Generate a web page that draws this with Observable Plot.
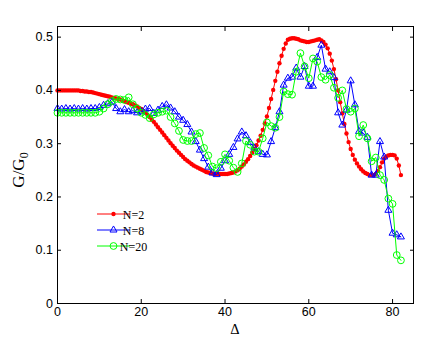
<!DOCTYPE html>
<html><head><meta charset="utf-8">
<script src="https://cdn.jsdelivr.net/npm/d3@7"></script>
<script src="https://cdn.jsdelivr.net/npm/@observablehq/plot@0.6"></script>
<style>
body{margin:0;background:#fff;}
#wrap{position:relative;width:436px;height:350px;}
</style></head><body><div id="wrap"></div>
<script>
// Tick values
const xTicks = [0, 20, 40, 60, 80];
const yTicks = [0, 0.1, 0.2, 0.3, 0.4, 0.5];
const seriesNames = ["N=2", "N=8", "N=20"];
const seriesColors = ["#ff0000", "#0000ff", "#00ff00"];

// N=2 : G/G0 at Delta = 0, 0.5, 1, ... 82
const gN2 = [
 .400,.400,.400,.400,.400,.400,.400,.400,.400,.400,
 .400,.399,.399,.398,.398,.397,.397,.396,.395,.394,
 .393,.392,.391,.390,.389,.388,.387,.386,.385,.384,
 .383,.381,.380,.378,.377,.375,.374,.372,.370,.367,
 .365,.361,.358,.354,.350,.345,.341,.336,.331,.326,
 .321,.316,.311,.306,.301,.296,.292,.287,.283,.279,
 .275,.271,.268,.265,.262,.259,.257,.255,.253,.251,
 .249,.247,.246,.245,.244,.243,.243,.243,.243,.243,
 .243,.243,.244,.245,.246,.248,.250,.253,.257,.261,
 .266,.271,.277,.283,.290,.297,.306,.315,.326,.338,
 .351,.367,.384,.401,.418,.435,.451,.465,.478,.488,
 .495,.497,.498,.498,.497,.496,.494,.493,.492,.491,
 .491,.492,.493,.494,.495,.496,.494,.491,.486,.479,
 .469,.456,.440,.421,.400,.378,.357,.337,.319,.303,
 .290,.279,.270,.263,.257,.252,.248,.245,.243,.241,
 .241,.241,.243,.249,.256,.265,.272,.276,.278,.279,
 .279,.278,.272,.259,.241
];
// N=8 : Delta = 0, 1, ... 82
const gN8 = [
 .366,.365,.366,.365,.366,.365,.366,.365,.366,.366,
 .368,.372,.375,.378,.366,.360,.364,.360,.362,.358,
 .360,.365,.366,.357,.363,.370,.373,.367,.360,.350,
 .344,.336,.322,.304,.288,.272,.256,.245,.242,.254,
 .268,.280,.293,.309,.322,.315,.302,.292,.285,.280,
 .279,.304,.330,.360,.410,.423,.425,.442,.425,.445,
 .408,.408,.462,.485,.440,.435,.424,.358,.335,.363,
 .418,.373,.323,.320,.312,.241,.241,.304,.275,.175,
 .132,.129,.125
];
// N=20 : Delta = 0, 1, ... 82
const gN20 = [
 .358,.358,.358,.358,.358,.358,.358,.358,.358,.358,
 .360,.366,.374,.380,.384,.383,.382,.387,.374,.366,
 .358,.354,.348,.355,.358,.360,.362,.350,.338,.324,
 .307,.305,.305,.318,.320,.292,.278,.257,.254,.266,
 .280,.268,.255,.247,.263,.305,.298,.285,.285,.310,
 .340,.333,.330,.350,.398,.393,.392,.435,.470,.445,
 .423,.460,.454,.425,.420,.429,.405,.386,.400,.365,
 .360,.366,.314,.335,.310,.267,.274,.241,.232,.197,
 .187,.091,.081
];

const red = gN2.map((g, i) => ({delta: i / 2, g}));
const blue = gN8.map((g, i) => ({delta: i, g}));
const green = gN20.map((g, i) => ({delta: i, g}));

const chart = Plot.plot({
  width: 436, height: 350,
  marginLeft: 57, marginRight: 23, marginTop: 26, marginBottom: 47,
  x: {domain: [0, 85], label: null},
  y: {domain: [0, 0.52], label: null},
  style: {fontFamily: "'Liberation Sans', Arial, sans-serif", fontSize: "12.5px", background: "white", color: "black", overflow: "visible"},
  marks: [
    Plot.line(red, {x: "delta", y: "g", stroke: seriesColors[0], strokeWidth: 1}),
    Plot.dot(red, {x: "delta", y: "g", fill: seriesColors[0], r: 2.2}),
    Plot.line(blue, {x: "delta", y: "g", stroke: seriesColors[1], strokeWidth: 1}),
    Plot.dot(blue, {x: "delta", y: "g", symbol: "triangle", stroke: seriesColors[1], fill: "none", r: 2.6, strokeWidth: 1}),
    Plot.line(green, {x: "delta", y: "g", stroke: seriesColors[2], strokeWidth: 1}),
    Plot.dot(green, {x: "delta", y: "g", symbol: "circle", stroke: seriesColors[2], fill: "none", r: 3.4, strokeWidth: 1}),
    Plot.axisX({ticks: xTicks, tickSize: -4, tickPadding: 8, label: null}),
    Plot.axisX({anchor: "top", ticks: xTicks, tickSize: -4, tickFormat: () => "", label: null}),
    Plot.axisY({ticks: yTicks, tickSize: -4, tickPadding: 8.5, tickFormat: d => d === 0 ? "0" : d.toFixed(1), label: null}),
    Plot.axisY({anchor: "right", ticks: yTicks, tickSize: -4, tickFormat: () => "", label: null}),
    Plot.frame({stroke: "black"})
  ]
});

const svg = d3.select(chart);
// axis titles
const yl = svg.append("text")
  .attr("transform", "translate(24,170) rotate(-90)")
  .attr("text-anchor", "middle")
  .style("font-family", "'Liberation Serif','Times New Roman',serif")
  .style("font-size", "17px")
  .attr("fill", "black");
yl.append("tspan").text("G/G");
yl.append("tspan").attr("dy", 4).style("font-size", "12px").text("0");

svg.append("text")
  .attr("x", 235).attr("y", 334)
  .attr("text-anchor", "middle")
  .style("font-family", "'Liberation Serif','Times New Roman',serif")
  .style("font-size", "14.5px")
  .attr("fill", "black")
  .text("Δ");

// legend
const lg = svg.append("g");
seriesNames.forEach((name, i) => {
  const y = 214 + i * 16;
  const c = seriesColors[i];
  lg.append("line").attr("x1", 97).attr("x2", 130).attr("y1", y).attr("y2", y).attr("stroke", c).attr("stroke-width", 1);
  if (i === 0) lg.append("circle").attr("cx", 113.5).attr("cy", y).attr("r", 2.2).attr("fill", c);
  if (i === 1) lg.append("path").attr("transform", `translate(113.5,${y})`).attr("d", d3.symbol(d3.symbolTriangle, 2.6 * 2.6 * Math.PI)()).attr("fill", "none").attr("stroke", c);
  if (i === 2) lg.append("circle").attr("cx", 113.5).attr("cy", y).attr("r", 3.4).attr("fill", "none").attr("stroke", c);
  lg.append("text").attr("x", 133.5).attr("y", y + 4.5)
    .style("font-family", "'Liberation Serif','Times New Roman',serif")
    .style("font-size", "12px").attr("fill", "black").text(name);
});

document.getElementById("wrap").appendChild(chart);
</script>
</body></html>
